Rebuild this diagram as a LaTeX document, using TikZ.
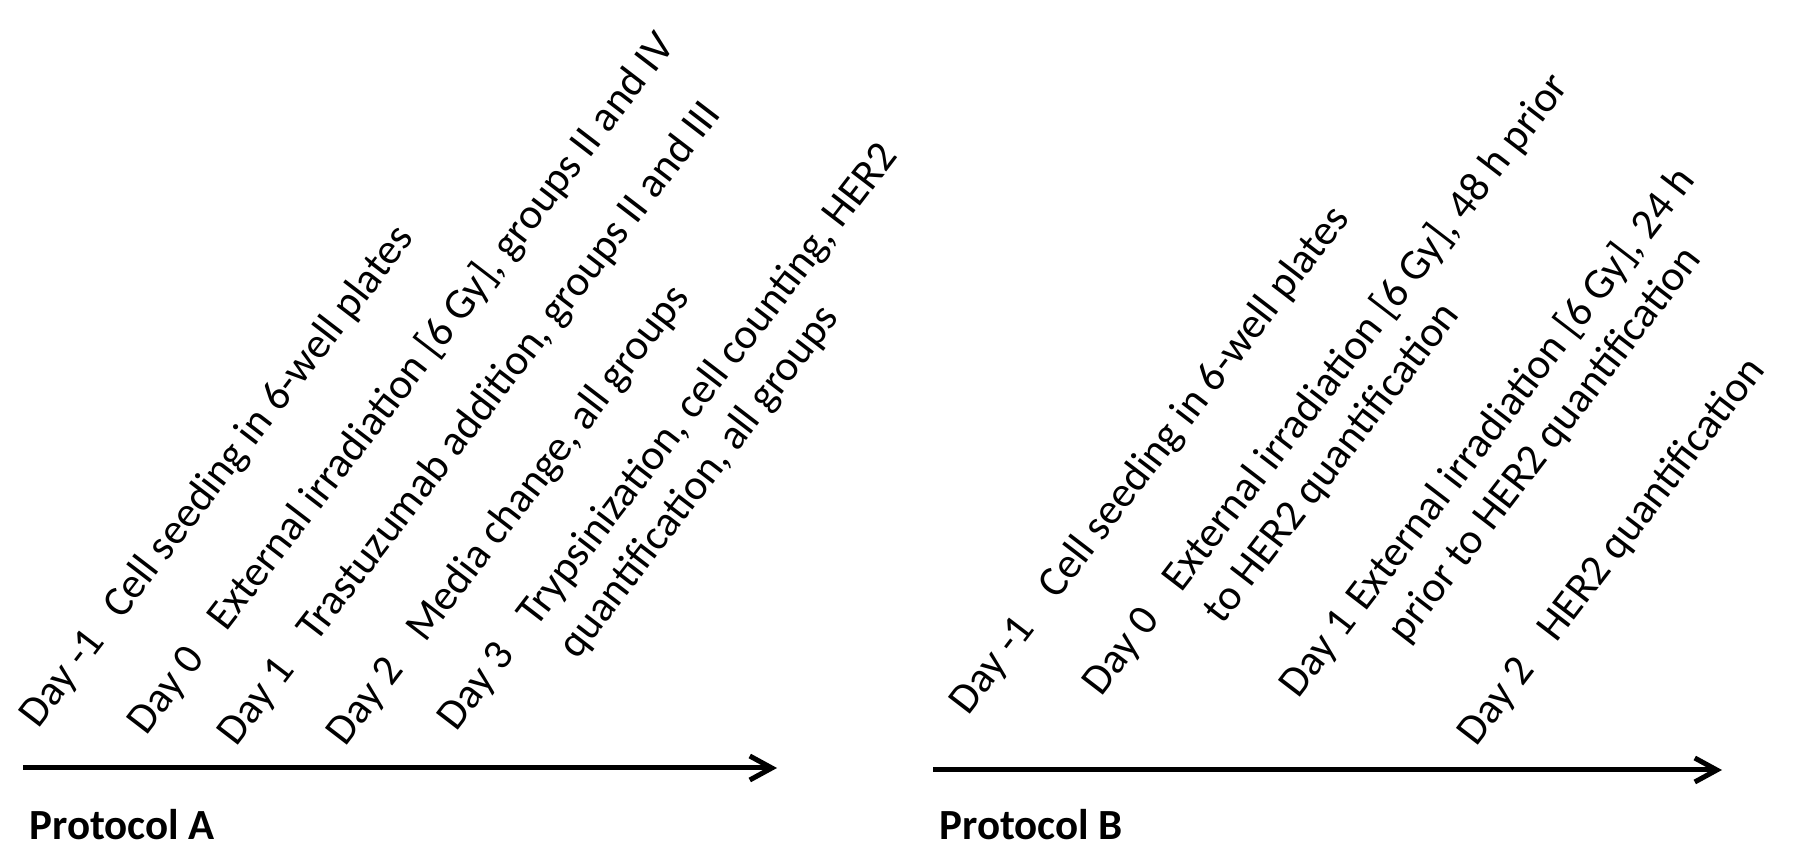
\documentclass[tikz,border=0pt]{standalone}
\usepackage{fontspec}
\setmainfont{Carlito}
\usetikzlibrary{arrows.meta}
\newcommand\dlab[2][3.05em]{\makebox[#1][l]{#2}}
\begin{document}
\begin{tikzpicture}[x=0.5pt,y=0.5pt,
  evt/.style={rotate=52.5, anchor=base west, inner sep=0pt, font=\fontsize{21.5}{26.2}\selectfont},
  timeline/.style={line width=2.5pt, -{Straight Barb[length=11pt,width=12pt]}},
  proto/.style={anchor=base west, inner sep=0pt, font=\fontsize{21.5}{26}\selectfont\bfseries}]
\useasboundingbox (0,0) rectangle (1795,862);
% Protocol A
\node[evt] (a1) at (38,132) {\dlab[3.2em]{Day -1}Cell seeding in 6-well plates};
\node[evt] (a2) at (146,125) {\dlab{Day 0}External irradiation [6 Gy], groups II and IV};
\node[evt] (a3) at (236,114) {\dlab{Day 1}Trastuzumab addition, groups II and III};
\node[evt] (a4) at (345,114) {\dlab{Day 2}Media change, all groups};
\node[evt] (a5) at (456,129) {\begin{tabular}[t]{@{}l@{}l@{}}\dlab{Day 3}&Trypsinization, cell counting, HER2\\ &quantification, all groups\end{tabular}};
\coordinate (aS) at (23,94);
\coordinate (aE) at (777,94);
\draw[timeline] (aS) -- (aE);
\node[proto] (pa) at (29,22) {Protocol A};
% Protocol B
\node[evt] (b1) at (968,145) {\dlab[3.4em]{Day -1}Cell seeding in 6-well plates};
\node[evt] (b2) at (1101,164) {\begin{tabular}[t]{@{}l@{}l@{}}\dlab{Day 0}&External irradiation [6 Gy], 48 h prior\\ &to HER2 quantification\end{tabular}};
\node[evt] (b3) at (1298,162) {\begin{tabular}[t]{@{}l@{}l@{}}\dlab[2.55em]{Day 1}&External irradiation [6 Gy], 24 h\\ &prior to HER2 quantification\end{tabular}};
\node[evt] (b4) at (1476,114) {\dlab{Day 2}HER2 quantification};
\coordinate (bS) at (933,92);
\coordinate (bE) at (1722,92);
\draw[timeline] (bS) -- (bE);
\node[proto] (pb) at (939,22) {Protocol B};
\end{tikzpicture}
\end{document}
